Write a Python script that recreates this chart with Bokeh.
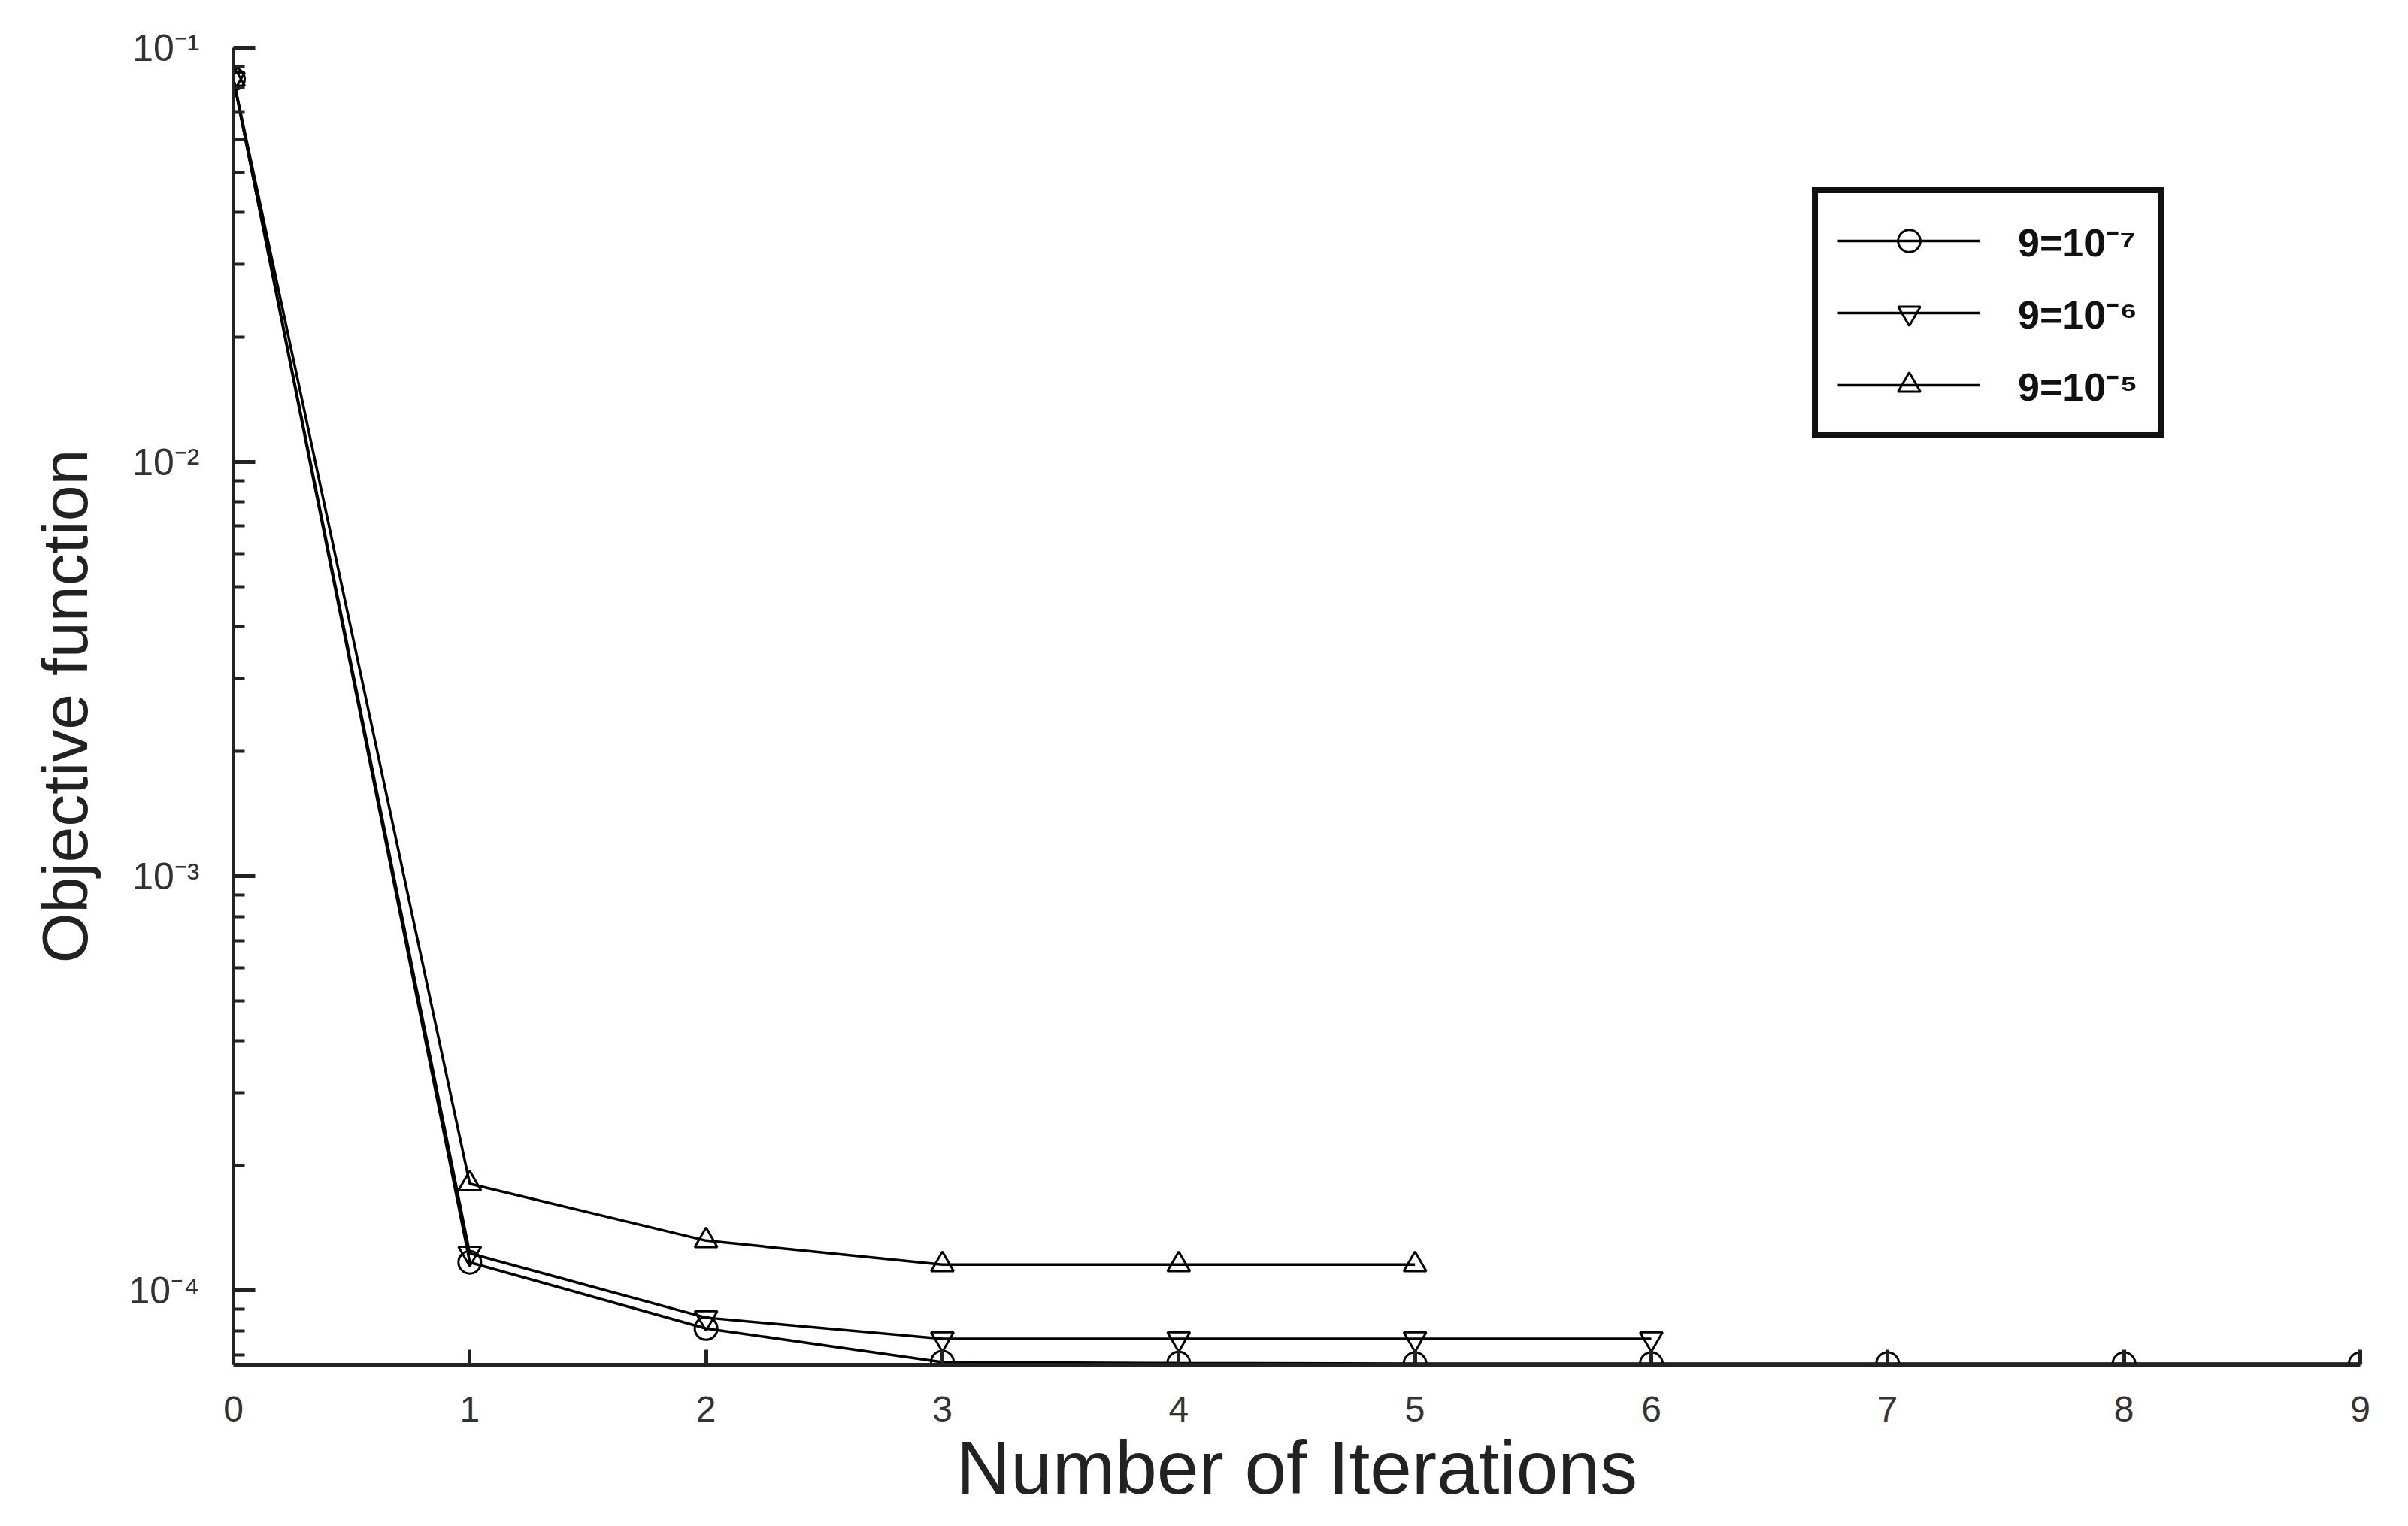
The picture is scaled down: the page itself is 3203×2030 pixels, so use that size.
from bokeh.plotting import figure
from bokeh.models import Range1d, FixedTicker, CustomJSTickFormatter, Legend, LegendItem
from bokeh.embed import file_html
from bokeh.resources import INLINE

iters_a = [0, 1, 2, 3, 4, 5, 6, 7, 8, 9]
obj_a = [0.084, 1.17e-4, 8.1e-5, 6.72e-5, 6.68e-5, 6.66e-5, 6.66e-5, 6.66e-5, 6.66e-5, 6.66e-5]
iters_b = [0, 1, 2, 3, 4, 5, 6]
obj_b = [0.084, 1.23e-4, 8.6e-5, 7.65e-5, 7.65e-5, 7.65e-5, 7.65e-5]
iters_c = [0, 1, 2, 3, 4, 5]
obj_c = [0.084, 1.81e-4, 1.32e-4, 1.155e-4, 1.155e-4, 1.155e-4]
labels = ["9=10\u207b\u2077", "9=10\u207b\u2076", "9=10\u207b\u2075"]
x_ticks = [0, 1, 2, 3, 4, 5, 6, 7, 8, 9]
y_ticks = [1e-4, 1e-3, 1e-2, 1e-1]
y_minor = [m * d for d in [1e-5, 1e-4, 1e-3, 1e-2] for m in range(2, 10)]

FONT = "Liberation Sans"

p = figure(width=3190, height=2014, y_axis_type="log", output_backend="svg",
           toolbar_location=None, x_range=Range1d(0, 9), y_range=Range1d(6.62e-5, 0.1),
           min_border_left=310, min_border_right=51, min_border_top=63, min_border_bottom=199)
p.grid.visible = False
p.outline_line_color = None
p.background_fill_color = "white"

p.xaxis.ticker = FixedTicker(ticks=x_ticks)
p.yaxis.ticker = FixedTicker(ticks=y_ticks, minor_ticks=y_minor)
p.yaxis.formatter = CustomJSTickFormatter(code="""
const sup = {"-1":"\u207b\u00b9","-2":"\u207b\u00b2","-3":"\u207b\u00b3","-4":"\u207b\u2074"};
const e = Math.round(Math.log10(tick));
return "10" + sup[String(e)];
""")

for ax in [p.xaxis[0], p.yaxis[0]]:
    ax.axis_line_width = 5
    ax.axis_line_color = "#222222"
    ax.major_tick_line_width = 5
    ax.major_tick_line_color = "#222222"
    ax.minor_tick_line_width = 4
    ax.minor_tick_line_color = "#222222"
    ax.major_tick_out = 0
    ax.minor_tick_out = 0
    ax.major_label_text_font = FONT
    ax.major_label_text_font_size = "48px"
    ax.major_label_text_color = "#333333"
    ax.axis_label_text_font = FONT
    ax.axis_label_text_font_style = "normal"
    ax.axis_label_text_color = "#222222"

p.yaxis.major_label_text_font_size = "50px"

p.xaxis.major_tick_in = 20
p.xaxis.minor_tick_in = 0
p.xaxis.major_label_standoff = 42
p.xaxis.axis_label = "Number of Iterations"
p.xaxis.axis_label_text_font_size = "100px"
p.xaxis.axis_label_standoff = 2

p.yaxis.major_tick_in = 29
p.yaxis.minor_tick_in = 15
p.yaxis.major_label_standoff = 45
p.yaxis.axis_label = "Objective function"
p.yaxis.axis_label_text_font_size = "86px"
p.yaxis.axis_label_standoff = 34

series = [(iters_a, obj_a, "circle"), (iters_b, obj_b, "inverted_triangle"), (iters_c, obj_c, "triangle")]
items = []
for (xs, ys, mk), lab in zip(series, labels):
    r1 = p.line(xs, ys, line_color="black", line_width=3.5)
    r2 = p.scatter(xs, ys, marker=mk, size=30, line_color="black", line_width=3,
                   fill_color=None)
    items.append(LegendItem(label=lab, renderers=[r1, r2]))

legend = Legend(items=items, location=(2100, 1232))
legend.glyph_width = 190
legend.glyph_height = 74
legend.label_standoff = 50
legend.padding = 26
legend.spacing = 22
legend.margin = 0
legend.label_text_font = FONT
legend.label_text_font_style = "bold"
legend.label_text_font_size = "52px"
legend.label_text_color = "#111111"
legend.border_line_color = "#111111"
legend.border_line_alpha = 1.0
legend.border_line_width = 8
legend.background_fill_color = "white"
legend.background_fill_alpha = 1.0
p.add_layout(legend, "center")

open("out.html", "w").write(file_html(p, INLINE))
